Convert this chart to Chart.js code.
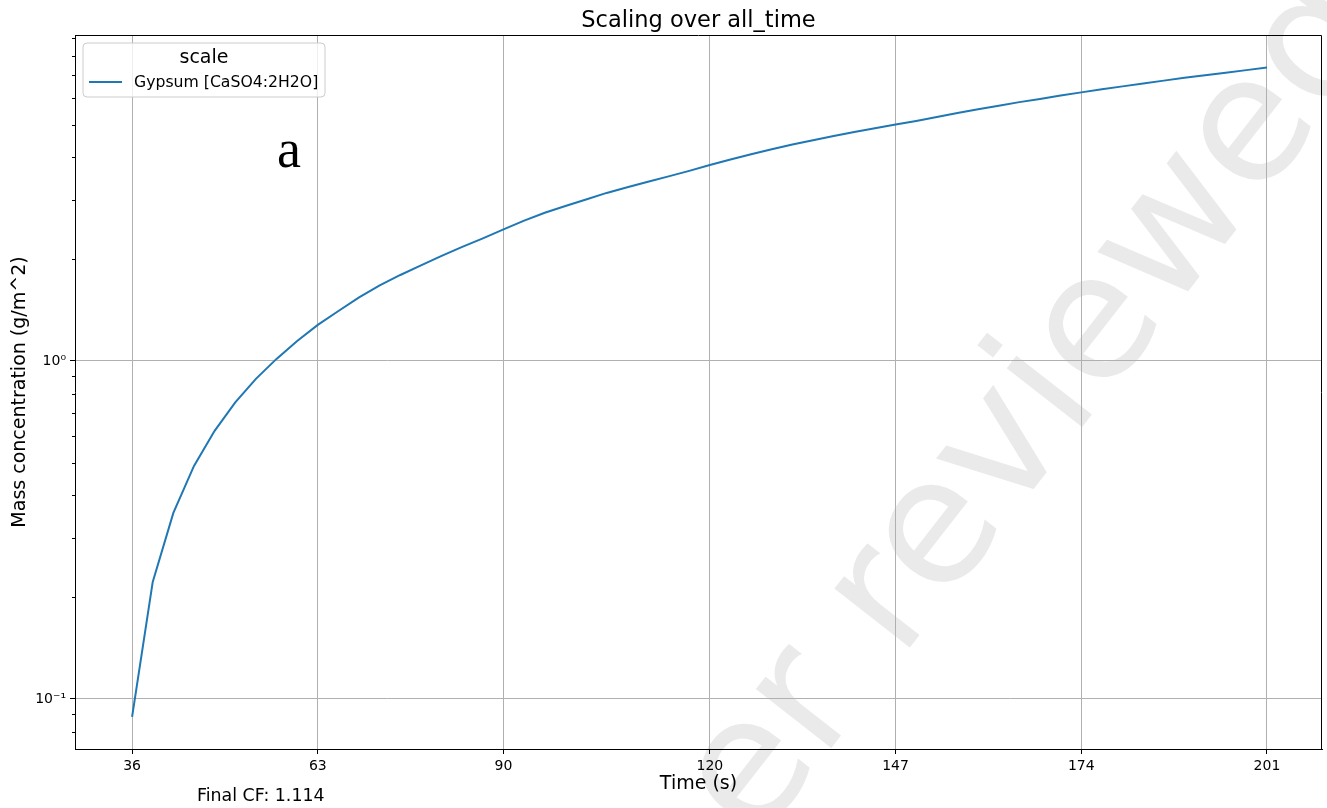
<!DOCTYPE html>
<html>
<head>
<meta charset="utf-8">
<script src="https://cdn.jsdelivr.net/npm/chart.js@4.4.1/dist/chart.umd.min.js"></script>
<style>
  html, body { margin: 0; padding: 0; background: #ffffff; }
  #wrap { width: 1327px; height: 808px; }
</style>
</head>
<body>
<div id="wrap"><canvas id="chart" width="1327" height="808"></canvas></div>
<script>
// Gypsum scaling mass concentration over time (log scale)
const times = [36, 39, 42, 45, 48, 51, 54, 57, 60, 63, 66, 69, 72, 75, 78, 81, 84, 87, 90,
  93, 96, 99, 102, 105, 108, 111, 114, 117, 120, 123, 126, 129, 132, 135, 138, 141, 144, 147,
  150, 153, 156, 159, 162, 165, 168, 171, 174, 177, 180, 183, 186, 189, 192, 195, 198, 201];
const gypsum = [0.0885, 0.222, 0.355, 0.489, 0.621, 0.754, 0.885, 1.014, 1.146, 1.278, 1.405,
  1.541, 1.673, 1.796, 1.917, 2.045, 2.175, 2.304, 2.449, 2.600, 2.745, 2.874, 3.004, 3.141,
  3.265, 3.390, 3.515, 3.650, 3.800, 3.945, 4.090, 4.230, 4.368, 4.498, 4.628, 4.754, 4.880,
  5.005, 5.130, 5.270, 5.410, 5.550, 5.690, 5.830, 5.960, 6.100, 6.230, 6.360, 6.490, 6.620,
  6.750, 6.880, 7.000, 7.120, 7.250, 7.380];

const xTicks = [36, 63, 90, 120, 147, 174, 201];
const yMajor = [0.1, 1];
const yMajorLabels = ['10\u207B\u00B9', '10\u2070'];
const yMinor = [0.08, 0.09, 0.2, 0.3, 0.4, 0.5, 0.6, 0.7, 0.8, 0.9, 2, 3, 4, 5, 6, 7, 8, 9];

const seriesLabel = 'Gypsum [CaSO4:2H2O]';
const legendTitle = 'scale';
const chartTitle = 'Scaling over all_time';
const xTitle = 'Time (s)';
const yTitle = 'Mass concentration (g/m^2)';
const panelLetter = 'a';
const footnote = 'Final CF: 1.114';
const watermarkText = 'Peer reviewed';

const FONT = "'DejaVu Sans', 'Noto Sans', sans-serif";
const LINE_COLOR = '#1f77b4';
const GRID_COLOR = '#b0b0b0';

Chart.defaults.font.family = FONT;
Chart.defaults.color = '#000000';

const isMajor = v => yMajor.some(m => Math.abs(m - v) < 1e-9);

const decorations = {
  id: 'decorations',
  beforeDraw(chart) {
    const ctx = chart.ctx;
    ctx.save();
    ctx.fillStyle = '#ffffff';
    ctx.fillRect(0, 0, chart.width, chart.height);
    // diagonal watermark
    ctx.font = '175px ' + FONT;
    ctx.fillStyle = '#eaeaea';
    ctx.textBaseline = 'alphabetic';
    ctx.translate(900, 660);
    ctx.rotate(-52 * Math.PI / 180);
    const lead = ctx.measureText('Peer ').width;
    ctx.fillText(watermarkText, -lead, 0);
    ctx.restore();
  },
  afterDraw(chart) {
    const ctx = chart.ctx;
    const a = chart.chartArea;
    const y = chart.scales.y;
    ctx.save();

    // top and right spines
    ctx.strokeStyle = '#000000';
    ctx.lineWidth = 1;
    ctx.beginPath();
    ctx.moveTo(Math.round(a.left) + 0.5, Math.round(a.top) + 0.5);
    ctx.lineTo(Math.round(a.right) - 0.5, Math.round(a.top) + 0.5);
    ctx.lineTo(Math.round(a.right) - 0.5, Math.round(a.bottom) + 0.5);
    ctx.stroke();

    // minor ticks on the log axis
    ctx.beginPath();
    yMinor.forEach(v => {
      const py = Math.round(y.getPixelForValue(v)) + 0.5;
      ctx.moveTo(a.left - 3, py);
      ctx.lineTo(a.left, py);
    });
    ctx.stroke();

    // title
    ctx.fillStyle = '#000000';
    ctx.font = '22.5px ' + FONT;
    ctx.textAlign = 'center';
    ctx.textBaseline = 'alphabetic';
    ctx.fillText(chartTitle, (a.left + a.right) / 2, 27);

    // legend
    const lx = 83, ly = 43, lw = 242, lh = 54, r = 4;
    ctx.beginPath();
    ctx.moveTo(lx + r, ly);
    ctx.arcTo(lx + lw, ly, lx + lw, ly + lh, r);
    ctx.arcTo(lx + lw, ly + lh, lx, ly + lh, r);
    ctx.arcTo(lx, ly + lh, lx, ly, r);
    ctx.arcTo(lx, ly, lx + lw, ly, r);
    ctx.closePath();
    ctx.fillStyle = 'rgba(255,255,255,0.8)';
    ctx.fill();
    ctx.strokeStyle = '#cccccc';
    ctx.stroke();

    const ds = chart.data.datasets[0];
    ctx.fillStyle = '#000000';
    ctx.font = '19px ' + FONT;
    ctx.textAlign = 'center';
    ctx.textBaseline = 'middle';
    ctx.fillText(legendTitle, lx + lw / 2, 58);
    ctx.strokeStyle = ds.borderColor;
    ctx.lineWidth = ds.borderWidth;
    ctx.beginPath();
    ctx.moveTo(89, 82);
    ctx.lineTo(122, 82);
    ctx.stroke();
    ctx.font = '15.7px ' + FONT;
    ctx.textAlign = 'left';
    ctx.fillText(ds.label, 134, 83);

    // panel letter
    ctx.font = "54px 'Liberation Serif', 'DejaVu Serif', serif";
    ctx.textAlign = 'center';
    ctx.textBaseline = 'alphabetic';
    ctx.fillText(panelLetter, 289, 167);

    // footnote
    ctx.font = '17.4px ' + FONT;
    ctx.textAlign = 'left';
    ctx.textBaseline = 'middle';
    ctx.fillText(footnote, 197, 796);

    ctx.restore();
  }
};

new Chart(document.getElementById('chart'), {
  type: 'line',
  data: {
    datasets: [{
      label: seriesLabel,
      data: times.map((t, i) => ({ x: t, y: gypsum[i] })),
      borderColor: LINE_COLOR,
      backgroundColor: LINE_COLOR,
      borderWidth: 2,
      pointRadius: 0,
      tension: 0,
      fill: false
    }]
  },
  options: {
    responsive: false,
    animation: false,
    devicePixelRatio: 1,
    layout: { padding: { top: 35, right: 5, left: 0, bottom: 0 } },
    plugins: {
      legend: { display: false },
      title: { display: false },
      tooltip: { enabled: false }
    },
    scales: {
      x: {
        type: 'linear',
        min: 27.7,
        max: 209.0,
        afterBuildTicks: s => { s.ticks = xTicks.map(v => ({ value: v })); },
        afterFit: s => { s.height = 59; },
        ticks: {
          font: { size: 14 },
          color: '#000000',
          padding: 4,
          maxRotation: 0,
          autoSkip: false
        },
        grid: { color: GRID_COLOR, lineWidth: 1, tickColor: '#000000', tickLength: 5 },
        border: { color: '#000000', width: 1 },
        title: {
          display: true,
          text: xTitle,
          font: { size: 19 },
          color: '#000000',
          padding: { top: 0, bottom: 12.6 }
        }
      },
      y: {
        type: 'logarithmic',
        min: 0.0711,
        max: 9.21,
        afterBuildTicks: s => {
          s.ticks = yMinor.concat(yMajor).sort((p, q) => p - q)
            .map(v => ({ value: v, major: isMajor(v) }));
        },
        afterFit: s => { s.width = 75; },
        ticks: {
          font: { size: 14 },
          color: '#000000',
          padding: 4,
          autoSkip: false,
          callback: v => {
            const k = yMajor.findIndex(m => Math.abs(m - v) < 1e-9);
            return k >= 0 ? yMajorLabels[k] : '';
          }
        },
        grid: {
          color: c => (c.tick && isMajor(c.tick.value)) ? GRID_COLOR : 'rgba(0,0,0,0)',
          tickColor: c => (c.tick && isMajor(c.tick.value)) ? '#000000' : 'rgba(0,0,0,0)',
          lineWidth: 1,
          tickLength: 5
        },
        border: { color: '#000000', width: 1 },
        title: {
          display: true,
          text: yTitle,
          font: { size: 19 },
          color: '#000000',
          padding: { top: 8.6, bottom: 0 }
        }
      }
    }
  },
  plugins: [decorations]
});
</script>
</body>
</html>
